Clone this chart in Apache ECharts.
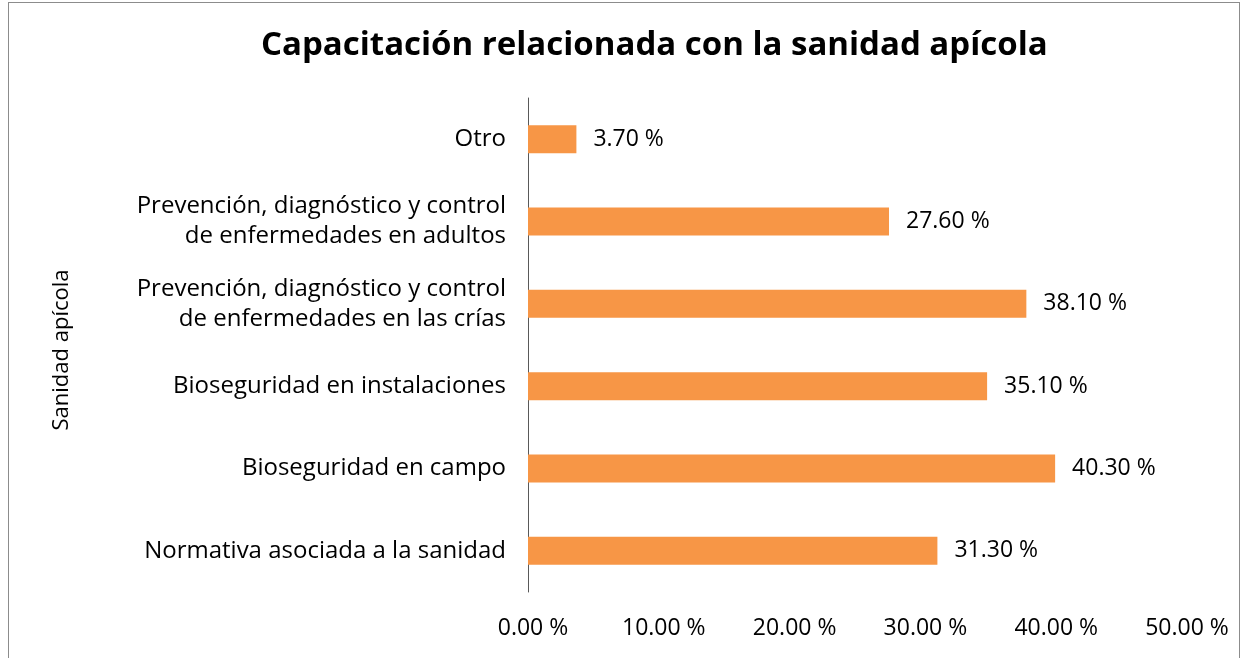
<!DOCTYPE html>
<html>
<head>
<meta charset="utf-8">
<script src="https://cdn.jsdelivr.net/npm/echarts@6/dist/echarts.min.js"></script>
<style>
  html, body { margin: 0; padding: 0; background: #fff; }
  #frame { position: absolute; left: 8px; top: 2px; width: 1232px; height: 660px; border: 1px solid #8c8c8c; box-sizing: border-box; }
  #chart { position: absolute; left: 0; top: 0; width: 1243px; height: 658px; }
</style>
</head>
<body>
<div id="frame"></div>
<div id="chart"></div>
<script>
  // categories listed bottom to top, as the y axis draws them
  const categories = [
    'Normativa asociada a la sanidad',
    'Bioseguridad en campo',
    'Bioseguridad en instalaciones',
    'Prevención, diagnóstico y control\nde enfermedades en las crías',
    'Prevención, diagnóstico y control\nde enfermedades en adultos',
    'Otro'
  ]
  const values = [31.3, 40.3, 35.1, 38.1, 27.6, 3.7]
  const axisMax = 50
  const axisStep = 10

  const font = '"Open Sans", "Noto Sans", sans-serif'
  const chart = echarts.init(document.getElementById('chart'))
  chart.setOption({
    animation: false,
    title: {
      text: 'Capacitación relacionada con la sanidad apícola',
      left: 256,
      top: 24,
      textStyle: { fontFamily: font, fontSize: 33, fontWeight: 'bold', color: '#000' }
    },
    grid: { left: 528, right: 61, top: 98, bottom: 66 },
    xAxis: {
      type: 'value',
      min: 0,
      max: axisMax,
      interval: axisStep,
      axisLine: { show: false },
      axisTick: { show: false },
      splitLine: { show: false },
      axisLabel: {
        margin: 25,
        padding: [0, 0, 0, 10],
        fontFamily: font,
        fontSize: 23,
        color: '#000',
        formatter: (v) => v.toFixed(2) + ' %'
      }
    },
    yAxis: {
      type: 'category',
      data: categories,
      name: 'Sanidad apícola',
      nameLocation: 'middle',
      nameRotate: 90,
      nameGap: 455,
      nameTextStyle: { fontFamily: font, fontSize: 22, color: '#000', padding: [0, 10, 0, 0] },
      axisLine: { show: true, lineStyle: { color: '#595959', width: 1 } },
      axisTick: { show: false },
      axisLabel: {
        margin: 22,
        fontFamily: font,
        fontSize: 24,
        lineHeight: 30,
        color: '#000',
        align: 'right'
      }
    },
    series: [
      {
        type: 'bar',
        data: values,
        barWidth: 28,
        itemStyle: { color: '#F79646' },
        label: {
          show: true,
          position: 'right',
          distance: 17,
          fontFamily: font,
          fontSize: 23,
          color: '#000',
          formatter: (p) => p.value.toFixed(2) + ' %'
        }
      }
    ]
  })
</script>
</body>
</html>
